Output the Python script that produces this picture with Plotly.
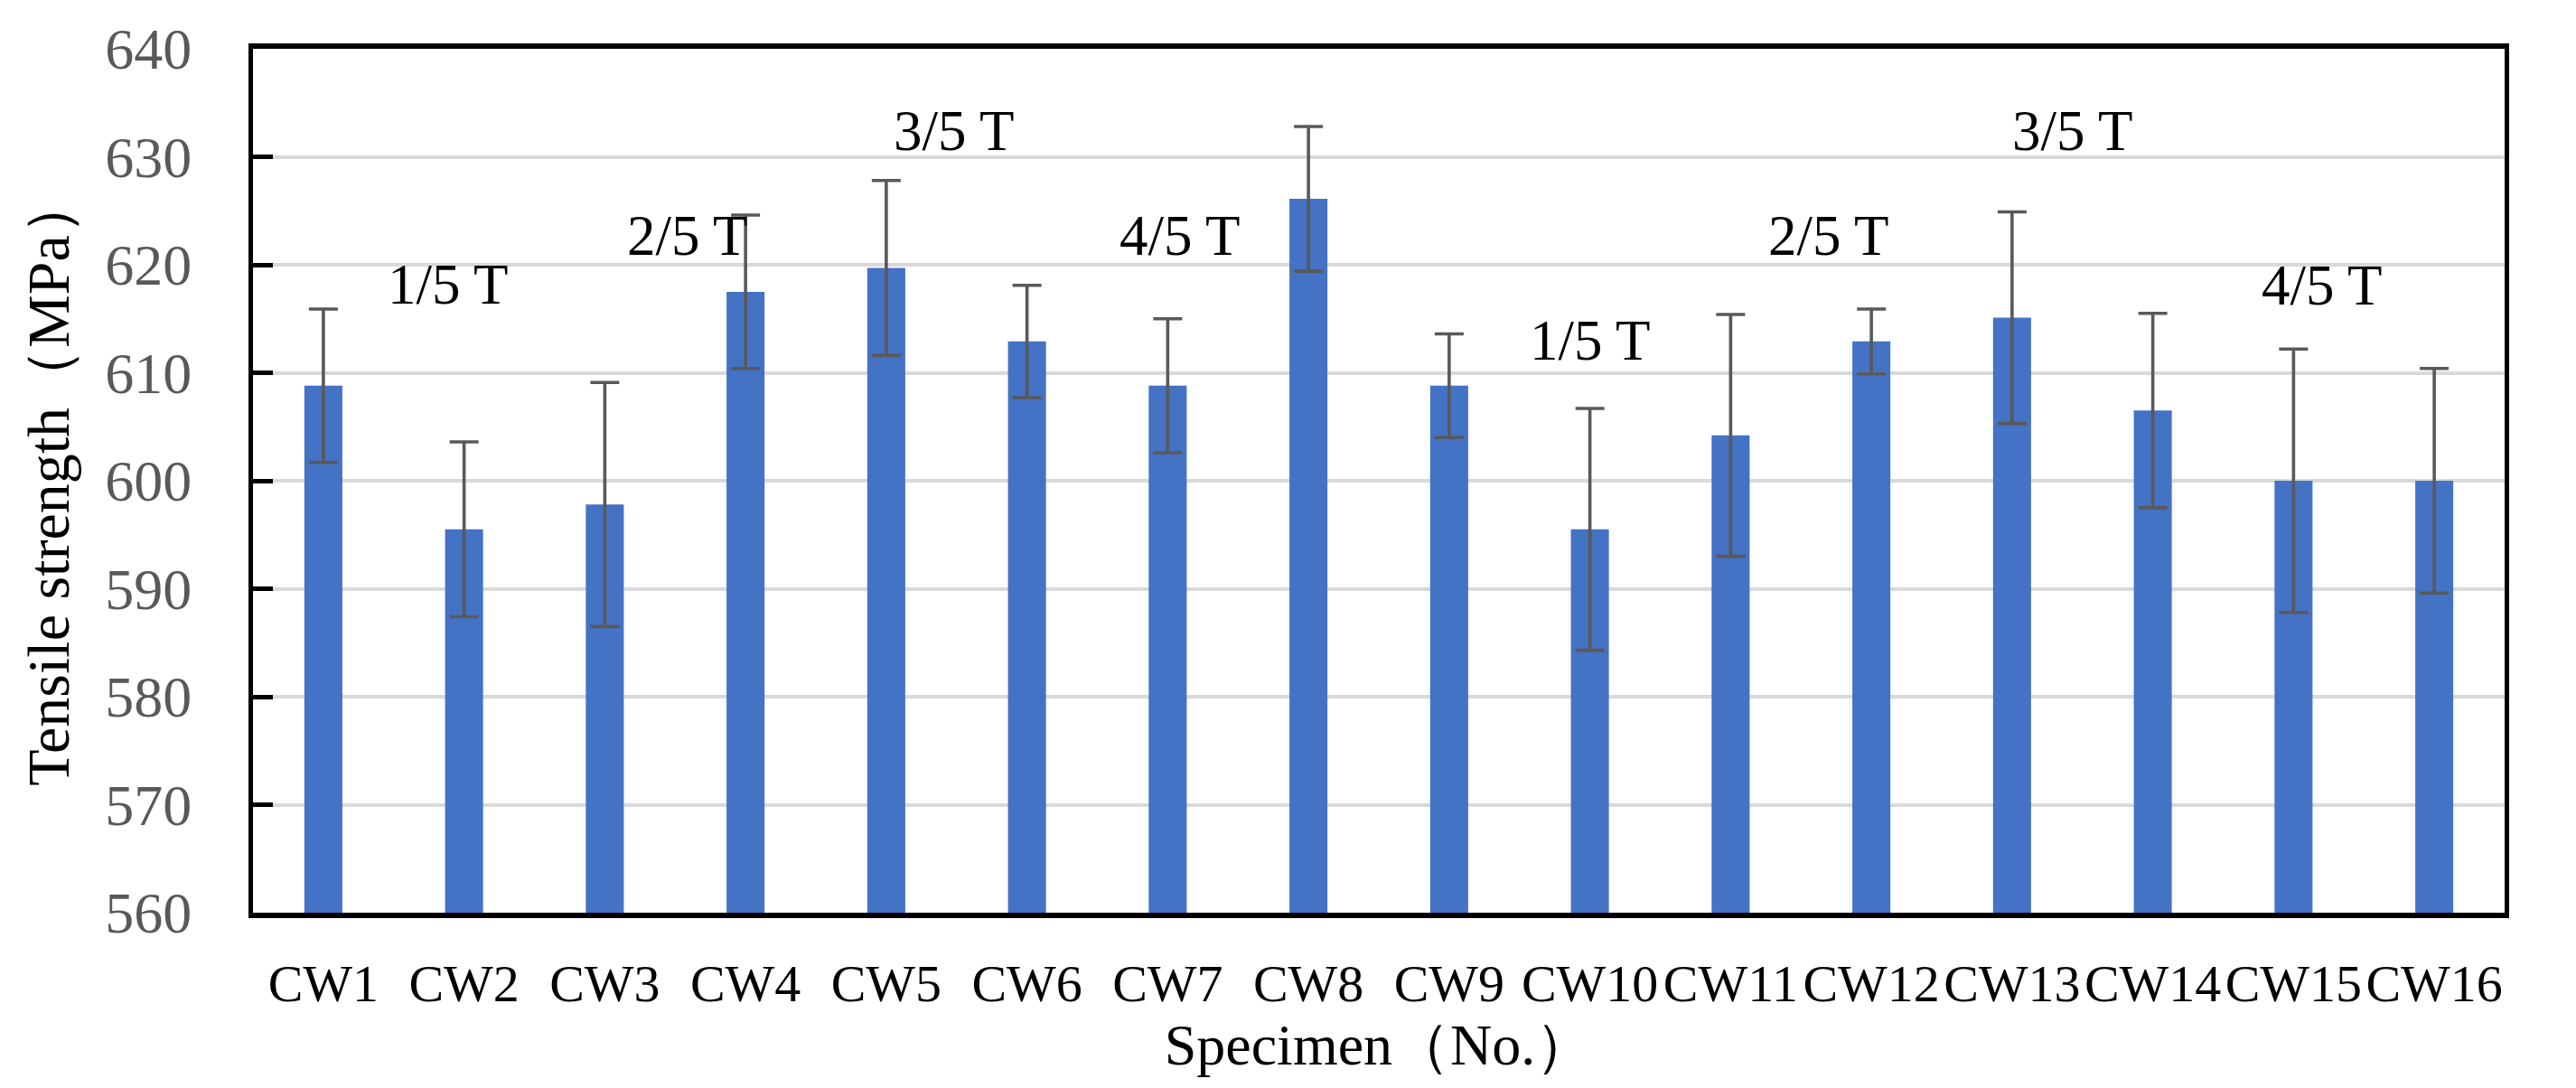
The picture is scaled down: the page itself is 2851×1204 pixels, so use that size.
import plotly.graph_objects as go

categories = ["CW1", "CW2", "CW3", "CW4", "CW5", "CW6", "CW7", "CW8",
              "CW9", "CW10", "CW11", "CW12", "CW13", "CW14", "CW15", "CW16"]
strength = [608.8, 595.5, 597.8, 617.5, 619.7, 612.9, 608.8, 626.1,
            608.8, 595.5, 604.2, 612.9, 615.1, 606.5, 600.0, 600.0]
error = [7.1, 8.1, 11.3, 7.1, 8.1, 5.2, 6.2, 6.7,
         4.8, 11.2, 11.2, 3.0, 9.8, 9.0, 12.2, 10.4]

# position labels (x = category index, y = MPa)
pos_text = ["1/5 T", "2/5 T", "3/5 T", "4/5 T", "1/5 T", "2/5 T", "3/5 T", "4/5 T"]
pos_x = [0.886, 2.59, 4.48, 6.09, 9.0, 10.7, 12.43, 14.2]
pos_y = [618.2, 622.7, 632.4, 622.7, 613.0, 622.7, 632.4, 618.1]

yticks = [560, 570, 580, 590, 600, 610, 620, 630, 640]

FONT = "Liberation Serif, Times New Roman, serif"

fig = go.Figure()
fig.add_trace(go.Bar(
    x=categories, y=strength,
    marker=dict(color="#4472C4", line=dict(width=0)),
    width=0.27,
    error_y=dict(type="data", array=error, visible=True,
                 color="#595959", thickness=3.6, width=16),
))

for t, x, y in zip(pos_text, pos_x, pos_y):
    fig.add_annotation(x=x, y=y, xref="x", yref="y", text=t, showarrow=False,
                       font=dict(family=FONT, size=63, color="black"))

fig.update_layout(
    width=2851, height=1204,
    margin=dict(l=272, r=87, t=46, b=202),
    paper_bgcolor="white", plot_bgcolor="white",
    showlegend=False,
    font=dict(family=FONT, color="black"),
)
fig.update_xaxes(
    type="category", showline=True, linecolor="black", linewidth=6, mirror=True,
    ticks="", tickangle=0, tickfont=dict(family=FONT, size=58, color="black"),
    ticklabelstandoff=22,
    title=dict(text="Specimen（No.）", font=dict(family=FONT, size=64, color="black"), standoff=6),
    showgrid=False,
)
fig.update_yaxes(
    range=[560, 640], tickvals=yticks, showline=True, linecolor="black", linewidth=5, mirror=True,
    ticks="inside", ticklen=22, tickwidth=5, tickcolor="black",
    tickfont=dict(family=FONT, size=64, color="#595959"),
    ticklabelstandoff=50,
    showgrid=True, gridcolor="#D9D9D9", gridwidth=3.5,
    title=dict(text="Tensile strength（MPa）", font=dict(family=FONT, size=66, color="black"), standoff=20),
    zeroline=False,
)

fig.write_html("out.html")
